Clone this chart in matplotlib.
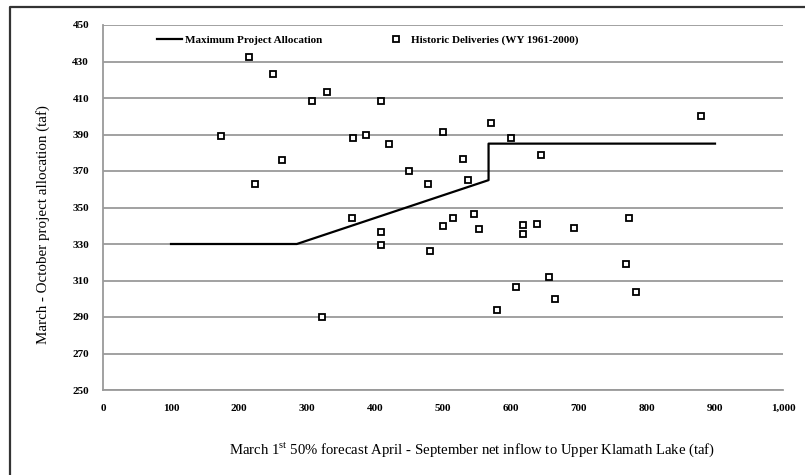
import matplotlib
matplotlib.use("Agg")
import matplotlib.pyplot as plt
from matplotlib.lines import Line2D
from matplotlib.ticker import FuncFormatter

plt.rcParams['font.family'] = ['Liberation Serif', 'DejaVu Serif']
plt.rcParams['mathtext.fontset'] = 'custom'
plt.rcParams['mathtext.rm'] = 'Liberation Serif'

# * Data

# Historic deliveries (WY 1961-2000): forecast inflow vs. project allocation, taf
inflow = [215, 250, 330, 308, 173, 368, 387, 263, 223,
          409, 421, 500, 570, 600, 644, 529, 450, 478, 537,
          366, 322,
          409, 409, 481, 500, 515, 546, 553, 618, 618, 638, 692, 656, 608, 664, 579,
          880, 774, 769, 784]
delivery = [432.5, 423, 413.5, 408.5, 389, 388, 389.5, 376, 363,
            408.5, 385, 391.5, 396.5, 388, 379, 376.5, 370, 363, 365,
            344.5, 290,
            336.5, 329.5, 326, 340, 344, 346.5, 338, 340.5, 335.5, 341, 339, 312, 306.5, 300, 294,
            400, 344, 319, 303.5]

# Maximum project allocation curve
alloc_x = [100, 285, 567, 567, 900]
alloc_y = [330, 330, 365, 385, 385]

x_ticks = list(range(0, 1001, 100))
y_ticks = list(range(250, 451, 20))

# * Plot

fig = plt.figure(figsize=(8.05, 4.75), dpi=100)
ax = fig.add_axes([103 / 805, 1 - 390 / 475, 680 / 805, 365 / 475])

ax.plot(alloc_x, alloc_y, color='black', lw=1.6, label='Maximum Project Allocation', zorder=3)
ax.plot(inflow, delivery, ls='none', marker='s', ms=5, mfc='white', mec='black',
        mew=1.3, label='Historic Deliveries (WY 1961-2000)', zorder=4)

ax.set_xlim(0, 1000)
ax.set_ylim(250, 450)
ax.set_xticks(x_ticks)
ax.set_yticks(y_ticks)
ax.xaxis.set_major_formatter(FuncFormatter(lambda v, p: '{:,.0f}'.format(v)))
ax.grid(axis='y', color='#9a9a9a', lw=1.3, zorder=0)
ax.set_axisbelow(True)
for side in ['top', 'right']:
    ax.spines[side].set_visible(False)
for side in ['left', 'bottom']:
    ax.spines[side].set_color('#9a9a9a')
    ax.spines[side].set_linewidth(1.3)
ax.tick_params(length=0, labelsize=8, pad=10)
for lbl in ax.get_xticklabels() + ax.get_yticklabels():
    lbl.set_fontweight('bold')

ax.legend(loc='upper left', bbox_to_anchor=(0.065, 1.0), ncol=2, frameon=False,
          handlelength=2.2, columnspacing=5.5, handletextpad=0.3,
          prop={'weight': 'bold', 'size': 8})

fig.text(43 / 805, 1 - 225 / 475, 'March - October project allocation (taf)',
         rotation=90, ha='center', va='center', fontsize=10.8)
fig.text(472 / 805, 1 - 450 / 475,
         r'March 1$^{\mathrm{st}}$ 50% forecast April - September net inflow to Upper Klamath Lake (taf)',
         ha='center', va='center', fontsize=10.6)

# outer frame (only left and top edges visible)
fig.add_artist(Line2D([10 / 805, 10 / 805, 1], [0, 1 - 7 / 475, 1 - 7 / 475],
                      transform=fig.transFigure, color='#333333', lw=1.6))

fig.savefig('out.png', dpi=100)
